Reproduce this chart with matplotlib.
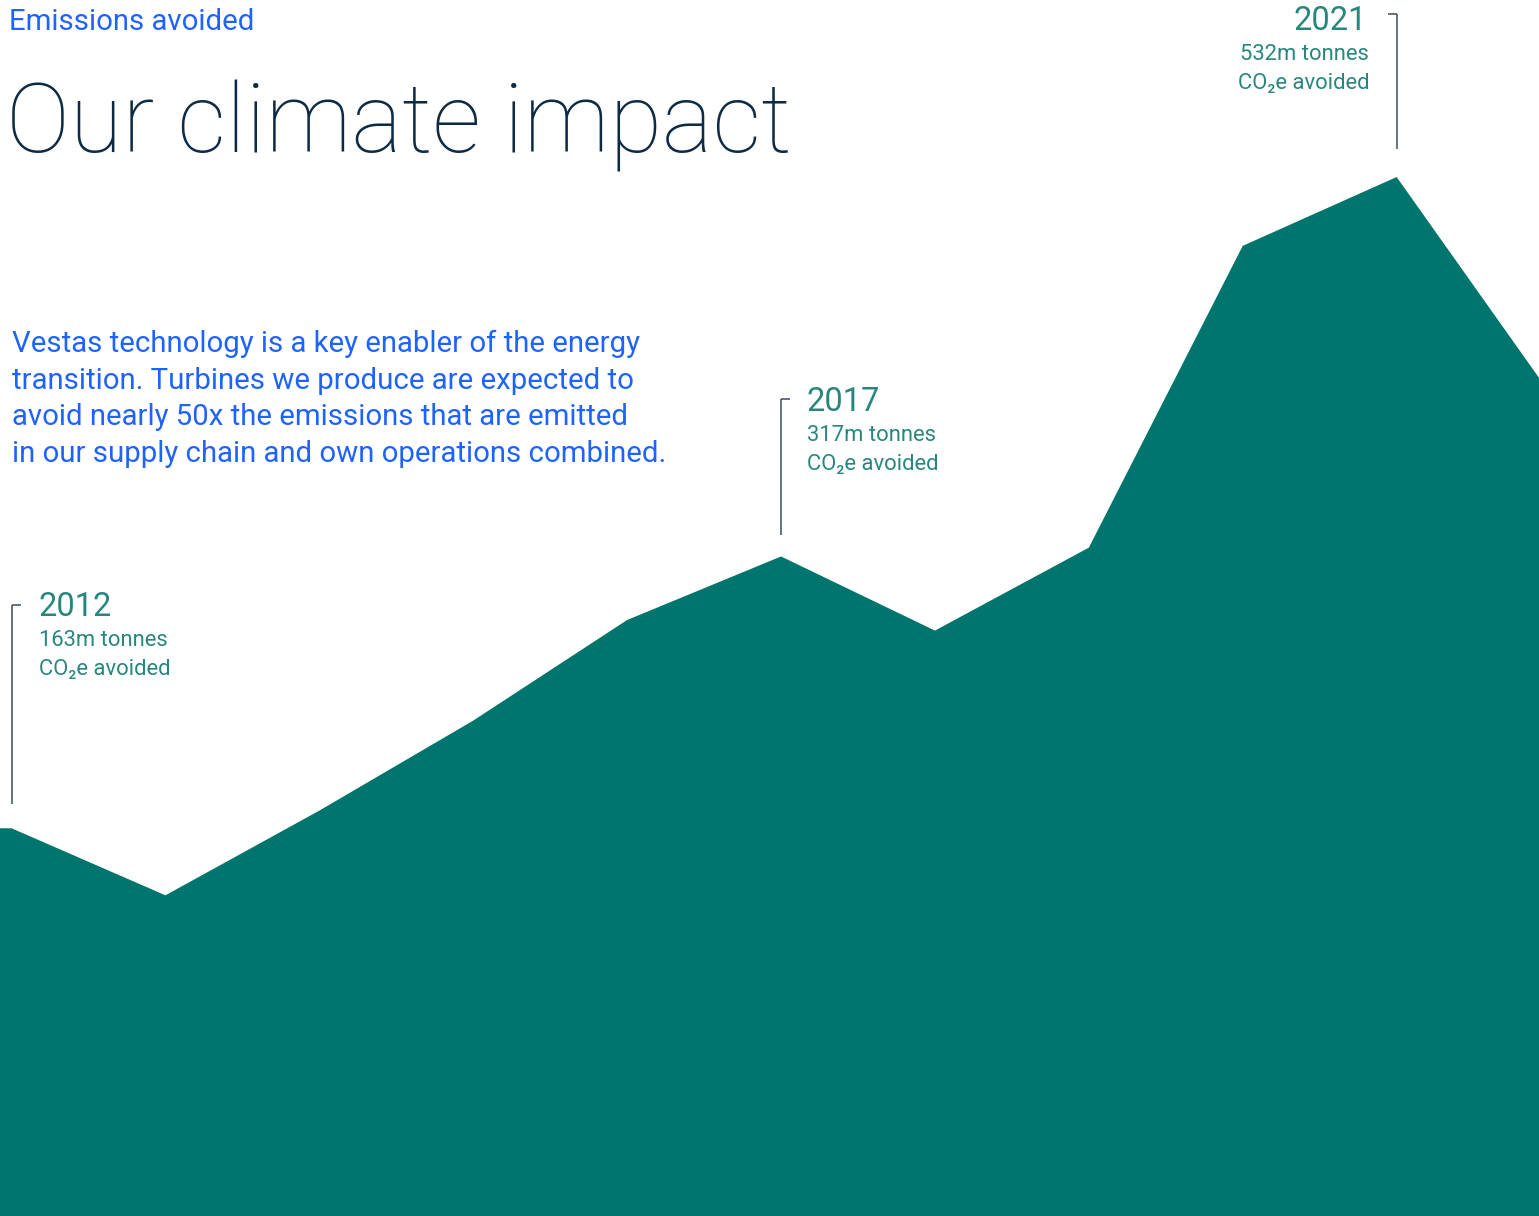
import matplotlib
matplotlib.use("Agg")
import matplotlib.pyplot as plt

# ---- data ----
years = [2012, 2013, 2014, 2015, 2016, 2017, 2018, 2019, 2020, 2021, 2022]
emissions_avoided = [163, 125, 173, 224, 281, 317, 275, 322, 493, 532, 409]  # million tonnes CO2e

highlight_years = [2012, 2017, 2021]
highlight_values = [163, 317, 532]

title = "Our climate impact"
kicker = "Emissions avoided"
body = ("Vestas technology is a key enabler of the energy\n"
        "transition. Turbines we produce are expected to\n"
        "avoid nearly 50x the emissions that are emitted\n"
        "in our supply chain and own operations combined.")

# ---- style ----
W, H = 1539, 1216
FILL = "#00756D"
TXT_TEAL = "#28877C"
NAVY = "#0E2B45"
BLUE = "#1F63FF"
LINE = "#3A4C5E"
FONT = ["Roboto", "DejaVu Sans"]

fig = plt.figure(figsize=(W / 100, H / 100), dpi=100)
ax = fig.add_axes([0, 0, 1, 1])
ax.set_axis_off()

x0, x1 = 2011.925, 2021.925
y0, y1 = -56.7, 632.3
ax.set_xlim(x0, x1)
ax.set_ylim(y0, y1)

xs = [x0] + years
ys = [emissions_avoided[0]] + emissions_avoided
ax.fill_between(xs, ys, y0, color=FILL, lw=0, zorder=1)

def px(x, y):
    return x / W, 1 - y / H

# kicker, title, body
fig.text(*px(9, 30), kicker, color=BLUE, fontsize=21.2, family=FONT, weight="normal", va="baseline")
fig.text(*px(6, 152), title, color=NAVY, fontsize=69, family=FONT, weight="light", va="baseline")
fig.text(*px(12, 462), body, color=BLUE, fontsize=21.2, family=FONT, weight="normal",
         va="baseline", linespacing=1.39)

# annotations
def annot(year, value, line_top_px, line_bot_px, tick_dir, text_x_px, text_base_px, ha):
    xd = year
    inv = ax.transData.inverted()
    _, yt = inv.transform((0, H - line_top_px))
    _, yb = inv.transform((0, H - line_bot_px))
    ax.plot([xd, xd], [yb, yt], color=LINE, lw=1.1, zorder=3, solid_capstyle="butt")
    xp = ax.transData.transform((xd, 0))[0]
    xt, _ = inv.transform((xp + tick_dir * 9, 0))
    ax.plot([xd, xt], [yt, yt], color=LINE, lw=1.1, zorder=3, solid_capstyle="butt")
    fig.text(*px(text_x_px, text_base_px), f"{year}", color=TXT_TEAL, fontsize=23.5,
             family=FONT, weight="normal", ha=ha, va="baseline")
    fig.text(*px(text_x_px + (2 if ha == "right" else 0), text_base_px + 30), f"{value}m tonnes",
             color=TXT_TEAL, fontsize=15.8, family=FONT, weight="normal", ha=ha, va="baseline")
    fig.text(*px(text_x_px + (2 if ha == "right" else 0), text_base_px + 59), "CO\u2082e avoided",
             color=TXT_TEAL, fontsize=15.8, family=FONT, weight="normal", ha=ha, va="baseline")

annot(highlight_years[0], highlight_values[0], 605, 804, 1, 39, 616, "left")
annot(highlight_years[1], highlight_values[1], 399, 535, 1, 807, 411, "left")
annot(highlight_years[2], highlight_values[2], 14, 149, -1, 1367, 30, "right")

fig.savefig("out.png", dpi=100)
